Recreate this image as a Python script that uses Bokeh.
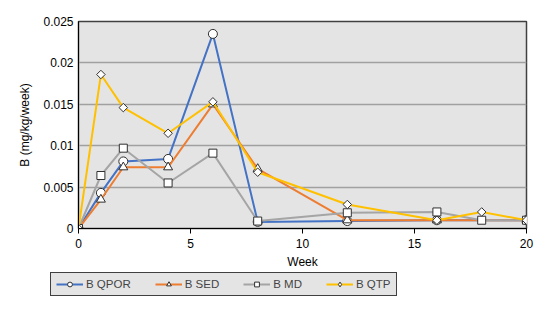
import math
from bokeh.plotting import figure
from bokeh.layouts import column, row
from bokeh.models import Legend, LegendItem, Range1d, FixedTicker, CustomJSTickFormatter
from bokeh.embed import file_html
from bokeh.resources import INLINE

weeks_qpor = [0, 1, 2, 4, 6, 8, 12, 16, 20]
b_qpor = [0, 0.0043, 0.0081, 0.0084, 0.0235, 0.0008, 0.0009, 0.001, 0.001]
weeks_sed = [0, 1, 2, 4, 6, 8, 12, 16, 20]
b_sed = [0, 0.0035, 0.0074, 0.0074, 0.015, 0.0072, 0.001, 0.001, 0.001]
weeks_md = [0, 1, 2, 4, 6, 8, 12, 16, 18, 20]
b_md = [0, 0.0064, 0.0097, 0.0055, 0.0091, 0.0009, 0.0019, 0.002, 0.001, 0.001]
weeks_qtp = [0, 1, 2, 4, 6, 8, 12, 16, 18, 20]
b_qtp = [0, 0.0186, 0.0146, 0.0115, 0.0153, 0.0068, 0.0029, 0.001, 0.002, 0.001]

x_ticks = [0, 5, 10, 15, 20]
y_ticks = [0, 0.005, 0.01, 0.015, 0.02, 0.025]

FONT = "Liberation Sans"

p = figure(width=535, height=272, output_backend="svg", toolbar_location=None,
           x_range=Range1d(0, 20), y_range=Range1d(0, 0.025),
           min_border_left=78, min_border_right=9, min_border_top=21, min_border_bottom=44)
p.background_fill_color = "#E4E4E4"
p.border_fill_color = "white"
p.outline_line_color = "#404040"
p.outline_line_width = 1.5

p.xgrid.grid_line_color = None
p.ygrid.grid_line_color = "#A0A0A0"
p.ygrid.grid_line_width = 1.5

p.xaxis.ticker = FixedTicker(ticks=x_ticks)
p.yaxis.ticker = FixedTicker(ticks=y_ticks)
p.yaxis.formatter = CustomJSTickFormatter(code="return tick == 0 ? '0' : String(+tick.toFixed(3));")
p.xaxis.minor_tick_line_color = None
p.yaxis.minor_tick_line_color = None
p.xaxis.major_tick_in = 0
p.xaxis.major_tick_out = 5
p.yaxis.major_tick_in = 0
p.yaxis.major_tick_out = 0
for ax in (p.xaxis, p.yaxis):
    ax.axis_line_color = "black"
    ax.axis_line_width = 1
    ax.major_tick_line_color = "black"
    ax.major_label_text_font = FONT
    ax.major_label_text_font_size = "12px"
    ax.major_label_text_color = "black"
    ax.axis_label_text_font = FONT
    ax.axis_label_text_font_size = "12px"
    ax.axis_label_text_font_style = "normal"
    ax.axis_label_text_color = "black"
p.xaxis.axis_label = "Week"
p.yaxis.axis_label = "B (mg/kg/week)"
p.xaxis.axis_label_standoff = 4
p.yaxis.axis_label_standoff = 8

# legend holder figure (its copies of the series lie outside its ranges)
p2 = figure(width=535, height=40, output_backend="svg", toolbar_location=None,
            x_range=Range1d(100, 101), y_range=Range1d(100, 101),
            x_axis_location=None, y_axis_location=None,
            min_border_left=0, min_border_right=0, min_border_top=0, min_border_bottom=0)
p2.grid.visible = False
p2.outline_line_color = None
p2.background_fill_color = "white"
p2.border_fill_color = "white"

series = [
    ("B QPOR", weeks_qpor, b_qpor, "#4472C4", "circle", 9, 0, "circle", 9),
    ("B SED", weeks_sed, b_sed, "#ED7D31", "triangle", 9, 0, "triangle", 9),
    ("B MD", weeks_md, b_md, "#A5A5A5", "square", 8, 0, "square", 8),
    ("B QTP", weeks_qtp, b_qtp, "#FFC000", "square", 6, math.pi / 4, "diamond", 10),
]
items = []
for name, xs, ys, col, mk, sz, ang, lmk, lsz in series:
    p.line(xs, ys, line_color=col, line_width=2)
    p.scatter(xs, ys, marker=mk, size=sz, angle=ang, fill_color="white",
              line_color="#303030", line_width=1)
    ln2 = p2.line(xs, ys, line_color=col, line_width=2)
    sc2 = p2.scatter(xs, ys, marker=lmk, size=lsz, fill_color="white",
                     line_color="#303030", line_width=1)
    items.append(LegendItem(label=name, renderers=[ln2, sc2]))

legend = Legend(items=items, orientation="horizontal", location=(50, 16),
                background_fill_color="#E4E4E4", background_fill_alpha=1,
                border_line_color="#404040", border_line_width=1, border_line_alpha=1,
                label_text_font=FONT, label_text_font_size="11.5px",
                glyph_width=27, glyph_height=12, label_height=12,
                label_standoff=3, spacing=24, padding=5, margin=0)
p2.add_layout(legend, "center")

layout = column(p, row(p2), spacing=0)
open("out.html", "w").write(file_html(layout, INLINE))
